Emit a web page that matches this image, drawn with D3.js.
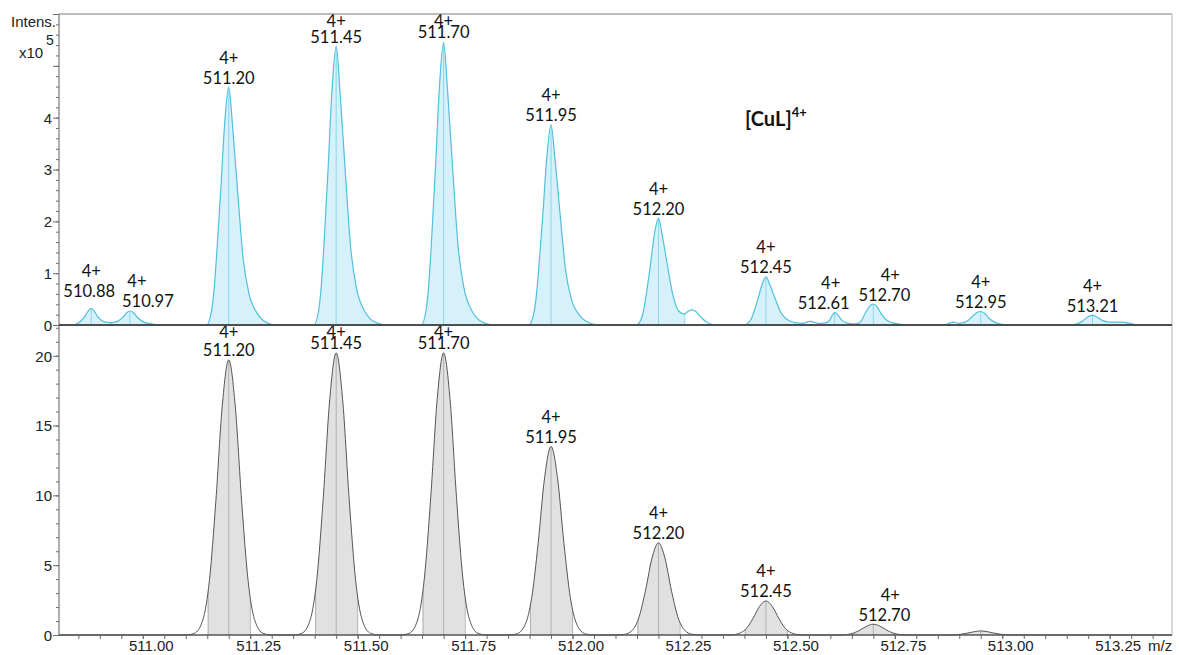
<!DOCTYPE html>
<html>
<head>
<meta charset="utf-8">
<script src="https://cdn.jsdelivr.net/npm/d3@7/dist/d3.min.js"></script>
<style>
  html, body { margin: 0; padding: 0; background: #fff; }
  svg { display: block; }
</style>
</head>
<body>
<svg id="chart" width="1179" height="655"></svg>
<script>
// ---------------------------------------------------------------
// Measured profile: [CuL]4+ isotope pattern (intensity x10^5)
// ---------------------------------------------------------------
const measuredProfile = [
  [510.805, 0], [510.835, 0], [510.852, 0.05], [510.865, 0.16], [510.873, 0.27], [510.880, 0.32],
  [510.887, 0.27], [510.895, 0.16], [510.908, 0.07], [510.925, 0.045], [510.941, 0.07], [510.955, 0.16],
  [510.963, 0.24], [510.970, 0.27], [510.978, 0.24], [510.987, 0.15], [511.001, 0.06], [511.019, 0.02],
  [511.040, 0],
  [511.148, 0], [511.159, 0.23], [511.165, 0.61], [511.171, 1.25], [511.181, 2.54], [511.190, 3.83],
  [511.200, 4.59], [511.209, 3.83], [511.221, 2.54], [511.234, 1.25], [511.247, 0.61], [511.266, 0.23],
  [511.297, 0.02], [511.320, 0],
  [511.398, 0], [511.409, 0.27], [511.415, 0.72], [511.421, 1.47], [511.431, 2.98], [511.440, 4.49],
  [511.450, 5.38], [511.459, 4.49], [511.471, 2.98], [511.484, 1.47], [511.497, 0.72], [511.516, 0.27],
  [511.547, 0.03], [511.570, 0],
  [511.648, 0], [511.659, 0.27], [511.665, 0.73], [511.671, 1.49], [511.681, 3.02], [511.690, 4.55],
  [511.700, 5.46], [511.709, 4.55], [511.721, 3.02], [511.734, 1.49], [511.747, 0.73], [511.766, 0.27],
  [511.797, 0.03], [511.820, 0],
  [511.898, 0], [511.909, 0.19], [511.915, 0.51], [511.921, 1.05], [511.931, 2.14], [511.940, 3.22],
  [511.950, 3.86], [511.959, 3.22], [511.971, 2.14], [511.984, 1.05], [511.997, 0.51], [512.016, 0.19],
  [512.047, 0.02], [512.070, 0],
  [512.148, 0], [512.159, 0.10], [512.165, 0.27], [512.171, 0.56], [512.181, 1.14], [512.190, 1.72],
  [512.200, 2.06], [512.209, 1.72], [512.221, 1.14], [512.234, 0.56], [512.247, 0.27], [512.260, 0.21],
  [512.270, 0.27], [512.278, 0.29], [512.287, 0.26], [512.300, 0.14], [512.315, 0.04], [512.335, 0],
  [512.399, 0], [512.410, 0.05], [512.416, 0.12], [512.422, 0.25], [512.432, 0.52], [512.441, 0.78],
  [512.450, 0.93], [512.459, 0.78], [512.471, 0.52], [512.484, 0.25], [512.497, 0.12], [512.516, 0.05],
  [512.535, 0.03], [512.553, 0.07], [512.573, 0.03], [512.588, 0.04],
  [512.598, 0.09], [512.604, 0.18], [512.610, 0.245], [512.617, 0.20], [512.626, 0.10], [512.638, 0.04],
  [512.652, 0.02], [512.664, 0.03],
  [512.672, 0.08], [512.682, 0.24], [512.692, 0.37], [512.700, 0.405], [512.708, 0.36], [512.718, 0.22],
  [512.730, 0.10], [512.745, 0.04], [512.765, 0.01], [512.790, 0],
  [512.860, 0], [512.872, 0.02], [512.886, 0.055], [512.900, 0.03], [512.911, 0.05],
  [512.921, 0.09], [512.931, 0.17], [512.941, 0.24], [512.950, 0.26], [512.958, 0.23], [512.968, 0.14],
  [512.981, 0.06], [512.996, 0.02], [513.015, 0],
  [513.155, 0], [513.172, 0.02], [513.186, 0.07], [513.198, 0.15], [513.210, 0.19], [513.221, 0.15],
  [513.233, 0.09], [513.245, 0.06], [513.263, 0.055], [513.280, 0.055], [513.295, 0.035], [513.310, 0.01],
  [513.330, 0], [513.395, 0]
];

// Labelled peaks of the measured spectrum: m/z and apex intensity (x10^5)
const measuredPeakMz        = [510.88, 510.97, 511.20, 511.45, 511.70, 511.95, 512.20, 512.45, 512.61, 512.70, 512.95, 513.21];
const measuredPeakIntensity = [0.32,   0.27,   4.59,   5.38,   5.46,   3.86,   2.06,   0.93,   0.245,  0.405,  0.26,   0.19];

// Integrated m/z windows of the measured peaks
const measuredWindows = [
  [510.835, 510.925], [510.925, 511.040], [511.148, 511.320], [511.398, 511.570],
  [511.648, 511.820], [511.898, 512.070], [512.148, 512.260], [512.399, 512.516],
  [512.588, 512.652], [512.664, 512.765], [512.911, 513.015], [513.172, 513.310]
];

// ---------------------------------------------------------------
// Simulated isotope pattern
// ---------------------------------------------------------------
const simulatedProfile = [
  [510.805, 0], [511.100, 0], [511.120, 0.12], [511.140, 1.11], [511.155, 3.90], [511.170, 9.59],
  [511.185, 16.45], [511.200, 19.7], [511.215, 16.45], [511.230, 9.59], [511.245, 3.90], [511.260, 1.11],
  [511.280, 0.12], [511.300, 0],
  [511.350, 0], [511.370, 0.12], [511.390, 1.13], [511.405, 4.0], [511.420, 9.84], [511.435, 16.87],
  [511.450, 20.2], [511.465, 16.87], [511.480, 9.84], [511.495, 4.0], [511.510, 1.13], [511.530, 0.12],
  [511.550, 0],
  [511.600, 0], [511.620, 0.12], [511.640, 1.13], [511.655, 4.0], [511.670, 9.84], [511.685, 16.87],
  [511.700, 20.2], [511.715, 16.87], [511.730, 9.84], [511.745, 4.0], [511.760, 1.13], [511.780, 0.12],
  [511.800, 0],
  [511.850, 0], [511.870, 0.08], [511.890, 0.76], [511.905, 2.67], [511.920, 6.57], [511.935, 11.27],
  [511.950, 13.5], [511.965, 11.27], [511.980, 6.57], [511.995, 2.67], [512.010, 0.76], [512.030, 0.08],
  [512.050, 0],
  [512.100, 0], [512.120, 0.04], [512.140, 0.37], [512.155, 1.31], [512.170, 3.21], [512.185, 5.51],
  [512.200, 6.6], [512.215, 5.51], [512.230, 3.21], [512.245, 1.31], [512.260, 0.37], [512.280, 0.04],
  [512.300, 0],
  [512.350, 0], [512.370, 0.01], [512.390, 0.14], [512.405, 0.48], [512.420, 1.19], [512.435, 2.04],
  [512.450, 2.44], [512.465, 2.04], [512.480, 1.19], [512.495, 0.48], [512.510, 0.14], [512.530, 0.01],
  [512.550, 0],
  [512.620, 0], [512.640, 0.04], [512.655, 0.15], [512.670, 0.37], [512.685, 0.64], [512.700, 0.77],
  [512.715, 0.64], [512.730, 0.37], [512.745, 0.15], [512.760, 0.04], [512.780, 0],
  [512.880, 0], [512.905, 0.06], [512.920, 0.14], [512.935, 0.24], [512.950, 0.29], [512.965, 0.24],
  [512.980, 0.14], [512.995, 0.06], [513.020, 0], [513.395, 0]
];

const simulatedPeakMz        = [511.20, 511.45, 511.70, 511.95, 512.20, 512.45, 512.70, 512.95];
const simulatedPeakIntensity = [19.7,   20.2,   20.2,   13.5,   6.6,    2.44,   0.77,   0.29];
const simulatedLabelled      = [true,   true,   true,   true,   true,   true,   true,   false];

const simulatedWindows = [
  [511.151, 511.249], [511.401, 511.499], [511.651, 511.749], [511.901, 511.999],
  [512.151, 512.249], [512.401, 512.499], [512.651, 512.749], [512.905, 512.995]
];

const chargeState = "4+";

// Axis ticks
const xTickLabels      = [511.00, 511.25, 511.50, 511.75, 512.00, 512.25, 512.50, 512.75, 513.00, 513.25];
const upperTickLabels  = [0, 1, 2, 3, 4];
const upperMajorTicks  = [0, 1, 2, 3, 4, 5, 6];
const lowerTickLabels  = [0, 5, 10, 15, 20];

// ---------------------------------------------------------------
// Layout
// ---------------------------------------------------------------
const plotLeft = 59, plotRight = 1172, plotTop = 14, split = 325, plotBottom = 635;

const svg = d3.select("#chart");
const defs = svg.append("defs");

const x  = d3.scaleLinear().domain([510.805, 513.395]).range([plotLeft, plotRight]);
const yU = d3.scaleLinear().domain([0, 6]).range([split, plotTop]);
const yL = d3.scaleLinear().domain([0, 22.2]).range([plotBottom, split]);

const peakFont = "Lato, 'Open Sans', sans-serif";
const axisFont = "'Liberation Sans', Arial, sans-serif";

function drawSpectrum(id, profile, y, windows, centers, style) {
  const g = svg.append("g");
  const area = d3.area().curve(d3.curveMonotoneX)
    .x(d => x(d[0])).y0(y(0)).y1(d => y(d[1]));
  const line = d3.line().curve(d3.curveMonotoneX)
    .x(d => x(d[0])).y(d => y(d[1]));

  defs.append("clipPath").attr("id", id).append("path").attr("d", area(profile));

  const inner = g.append("g").attr("clip-path", `url(#${id})`);
  const [yBottom, yTop] = y.range();

  // shaded integration windows
  inner.selectAll("rect").data(windows).join("rect")
    .attr("x", d => x(d[0]))
    .attr("width", d => x(d[1]) - x(d[0]))
    .attr("y", yTop).attr("height", yBottom - yTop)
    .attr("fill", style.fill);

  // window edges
  inner.selectAll("line.edge").data(windows.flat()).join("line")
    .attr("class", "edge")
    .attr("x1", d => x(d) + 0.5).attr("x2", d => x(d) + 0.5)
    .attr("y1", yTop).attr("y2", yBottom)
    .attr("stroke", style.edgeColor).attr("stroke-width", 1);

  // centroid markers
  inner.selectAll("line.center").data(centers).join("line")
    .attr("class", "center")
    .attr("x1", d => x(d)).attr("x2", d => x(d))
    .attr("y1", yTop).attr("y2", yBottom)
    .attr("stroke", style.centerColor).attr("stroke-width", 1);

  g.append("path").attr("d", line(profile))
    .attr("fill", "none")
    .attr("stroke", style.stroke)
    .attr("stroke-width", style.strokeWidth)
    .attr("stroke-linejoin", "round");
  return g;
}

drawSpectrum("measured-clip", measuredProfile, yU, measuredWindows, measuredPeakMz, {
  fill: "#d6f1fa", stroke: "#4fc0dd", strokeWidth: 1.2,
  edgeColor: "#8fd6ea", centerColor: "#8fd6ea"
});

drawSpectrum("simulated-clip", simulatedProfile, yL, simulatedWindows, simulatedPeakMz, {
  fill: "#e1e1e1", stroke: "#555555", strokeWidth: 1,
  edgeColor: "#b0b0b0", centerColor: "#b0b0b0"
});

// ---------------------------------------------------------------
// Peak annotations (charge over m/z)
// ---------------------------------------------------------------
const labelShift = {
  "510.88": { dx: -2, dy: -8, cdx: 0 },
  "510.97": { dx: 18, dy: -1, cdx: 7 },
  "512.61": { dx: -11, dy: 0, cdx: -4 },
  "512.70": { dx: 11, dy: 0, cdx: 17 }
};

function annotate(mzs, intensities, y, panelTop, show) {
  const fmt = d3.format(".2f");
  const g = svg.append("g")
    .attr("font-family", peakFont).attr("font-size", 16.5).attr("fill", "#111")
    .attr("text-anchor", "middle");
  mzs.forEach((mz, i) => {
    if (show && !show[i]) return;
    const key = fmt(mz);
    const s = labelShift[key] || { dx: 0, dy: 0, cdx: 0 };
    const px = x(mz);
    const valueBase = y(intensities[i]) - 3.5 + s.dy;
    const chargeBase = Math.max(valueBase - 20, panelTop + 13);
    g.append("text").attr("x", px + s.dx).attr("y", valueBase).text(key);
    g.append("text").attr("x", px + s.cdx).attr("y", chargeBase).text(chargeState);
  });
}

annotate(measuredPeakMz, measuredPeakIntensity, yU, plotTop, null);
annotate(simulatedPeakMz, simulatedPeakIntensity, yL, split, simulatedLabelled);

// ---------------------------------------------------------------
// Axes and frame
// ---------------------------------------------------------------
svg.append("line").attr("x1", plotLeft).attr("x2", plotRight).attr("y1", plotTop).attr("y2", plotTop)
  .attr("stroke", "#7a7a7a").attr("stroke-width", 1.2);
svg.append("line").attr("x1", plotRight).attr("x2", plotRight).attr("y1", plotTop).attr("y2", plotBottom)
  .attr("stroke", "#b5b5b5").attr("stroke-width", 1);

// upper y axis
const upperMinor = svg.append("g").attr("transform", `translate(${plotLeft},0)`)
  .call(d3.axisLeft(yU).ticks(30).tickSize(3).tickFormat(""));
const upperMajor = svg.append("g").attr("transform", `translate(${plotLeft},0)`)
  .call(d3.axisLeft(yU).tickValues(upperMajorTicks).tickSize(6)
    .tickFormat(d => upperTickLabels.includes(d) ? d : ""));

// lower y axis
const lowerMinor = svg.append("g").attr("transform", `translate(${plotLeft},0)`)
  .call(d3.axisLeft(yL).ticks(22).tickSize(3).tickFormat(""));
const lowerMajor = svg.append("g").attr("transform", `translate(${plotLeft},0)`)
  .call(d3.axisLeft(yL).tickValues(lowerTickLabels).tickSize(6).tickFormat(d3.format("d")));

// x axis
const xMinor = svg.append("g").attr("transform", `translate(0,${plotBottom})`)
  .call(d3.axisBottom(x).ticks(50).tickSize(4).tickFormat(""));
const xMajor = svg.append("g").attr("transform", `translate(0,${plotBottom})`)
  .call(d3.axisBottom(x).tickValues(xTickLabels).tickSize(4).tickFormat(d3.format(".2f")));

[upperMinor, upperMajor, lowerMinor, lowerMajor, xMinor, xMajor].forEach(a => {
  a.select(".domain").remove();
  a.selectAll(".tick line").attr("stroke", "#6a6a6a");
  a.selectAll(".tick text").filter(function () { return !this.textContent; }).remove();
  a.selectAll(".tick text").attr("font-family", axisFont).attr("font-size", 15).attr("fill", "#222");
});
[upperMajor, lowerMajor].forEach(a => a.selectAll(".tick text").attr("x", -7).attr("dy", "0.36em"));
xMajor.selectAll(".tick text").attr("dx", 8).attr("y", 16).attr("dy", 0);

// axis lines and panel separator
svg.append("line").attr("x1", plotLeft).attr("x2", plotLeft).attr("y1", plotTop).attr("y2", plotBottom)
  .attr("stroke", "#777").attr("stroke-width", 1.2);
svg.append("line").attr("x1", plotLeft).attr("x2", plotRight).attr("y1", split).attr("y2", split)
  .attr("stroke", "#4d4d4d").attr("stroke-width", 2.2);
svg.append("line").attr("x1", plotLeft).attr("x2", plotRight).attr("y1", plotBottom).attr("y2", plotBottom)
  .attr("stroke", "#555").attr("stroke-width", 1.5);

// axis titles
const titles = svg.append("g").attr("font-family", axisFont).attr("fill", "#222");
titles.append("text").attr("x", 11).attr("y", 27).attr("font-size", 15).text("Intens.");
titles.append("text").attr("x", 19).attr("y", 58).attr("font-size", 15).text("x10");
titles.append("text").attr("x", 46).attr("y", 45).attr("font-size", 14).text("5");
titles.append("text").attr("x", 1148).attr("y", 651).attr("font-size", 15).text("m/z");

// species label
const species = svg.append("text").attr("x", 745).attr("y", 126)
  .attr("font-family", peakFont).attr("font-weight", 700).attr("font-size", 20).attr("fill", "#111");
species.append("tspan").text("[CuL]");
species.append("tspan").attr("dy", -9).attr("font-size", 13).text("4+");
</script>
</body>
</html>
